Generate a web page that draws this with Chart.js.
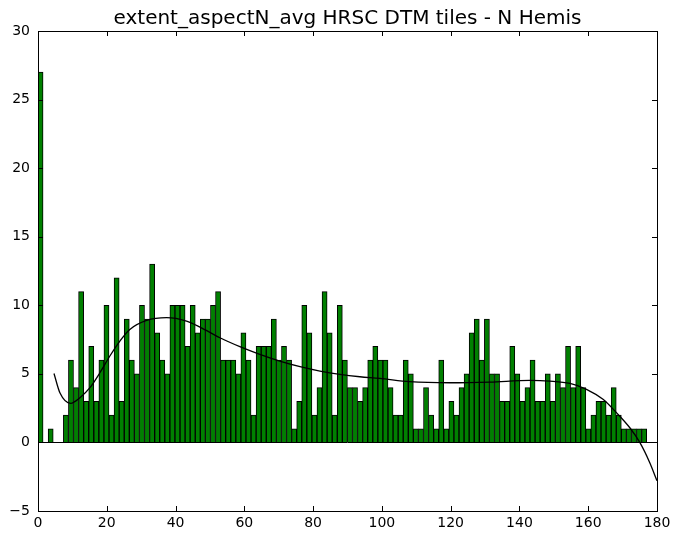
<!DOCTYPE html>
<html>
<head>
<meta charset="utf-8">
<script src="https://cdn.jsdelivr.net/npm/chart.js@4.4.1/dist/chart.umd.min.js"></script>
<style>
  html, body { margin: 0; padding: 0; background: #fff; }
  #hist { display: block; }
</style>
</head>
<body>
<canvas id="hist" width="681" height="545"></canvas>
<script>
// histogram counts, 120 bins from 0 to ~177
const binWidth = 1.475;
const binCounts = [
  27, 0, 1, 0, 0, 2, 6, 4, 11, 3, 7, 3, 6, 10, 2, 12, 3, 9, 6, 5,
  10, 9, 13, 8, 6, 5, 10, 10, 10, 7, 10, 8, 9, 9, 10, 11, 6, 6, 6, 5,
  8, 6, 2, 7, 7, 7, 9, 6, 7, 6, 1, 3, 10, 8, 2, 4, 11, 8, 2, 10,
  6, 4, 4, 3, 4, 6, 7, 6, 6, 4, 2, 2, 6, 5, 1, 1, 4, 2, 1, 6,
  1, 3, 2, 4, 5, 8, 9, 6, 9, 5, 5, 3, 3, 7, 5, 3, 4, 6, 3, 3,
  5, 3, 5, 4, 7, 4, 7, 4, 1, 2, 3, 3, 2, 4, 2, 1, 1, 1, 1, 1
];

// fitted curve
const fitX = [4.65, 6.4, 9.5, 12.2, 15.1, 18, 20.9, 23.8, 26.7, 31.6, 37.4, 43.2, 47.1, 52.9,
  58.7, 64.5, 70.3, 76.2, 82, 87.8, 93.6, 99.4, 108.1, 119.8, 131.4, 143, 148.8, 154.7,
  159.5, 164.3, 168.2, 172.1, 175, 177.9, 180];
const fitY = [5.03, 3.6, 2.85, 3.26, 3.99, 5.08, 6.3, 7.39, 8.24, 8.9, 9.1, 8.85, 8.41, 7.63,
  6.98, 6.42, 5.93, 5.52, 5.2, 4.96, 4.79, 4.67, 4.43, 4.35, 4.4, 4.52, 4.47, 4.3,
  3.87, 3.14, 2.17, 1.07, 0, -1.48, -2.8];

const xTicks = [0, 20, 40, 60, 80, 100, 120, 140, 160, 180];
const yTicks = [-5, 0, 5, 10, 15, 20, 25, 30];

const titleText = "extent_aspectN_avg HRSC DTM tiles - N Hemis";

Chart.defaults.font.family = "'DejaVu Sans', sans-serif";
Chart.defaults.color = "#000";

// frame on all four sides + inward ticks (old matplotlib look)
// title is centred over the plot area, not the whole canvas
const frameTicks = {
  id: "frameTicks",
  afterDatasetsDraw(chart) {
    const { ctx, chartArea: a, scales } = chart;
    const len = 5;
    ctx.save();
    ctx.strokeStyle = "#000";
    ctx.lineWidth = 1;
    ctx.beginPath();
    xTicks.forEach((v) => {
      const px = Math.round(scales.x.getPixelForValue(v)) + 0.5;
      ctx.moveTo(px, a.bottom);
      ctx.lineTo(px, a.bottom - len);
      ctx.moveTo(px, a.top);
      ctx.lineTo(px, a.top + len);
    });
    yTicks.forEach((v) => {
      const py = Math.round(scales.y.getPixelForValue(v)) + 0.5;
      ctx.moveTo(a.left, py);
      ctx.lineTo(a.left + len, py);
      ctx.moveTo(a.right, py);
      ctx.lineTo(a.right - len, py);
    });
    ctx.stroke();
    ctx.strokeRect(Math.round(a.left) + 0.5, Math.round(a.top) + 0.5,
      Math.round(a.right - a.left), Math.round(a.bottom - a.top));

    ctx.fillStyle = "#000";
    ctx.font = "20px 'DejaVu Sans', sans-serif";
    ctx.textAlign = "center";
    ctx.textBaseline = "alphabetic";
    ctx.fillText(titleText, (a.left + a.right) / 2, a.top - 7);
    ctx.restore();
  },
};

const barData = binCounts.map((c, i) => ({ x: i * binWidth + binWidth / 2, y: c }));
const lineData = fitX.map((x, i) => ({ x: x, y: fitY[i] }));

new Chart(document.getElementById("hist"), {
  type: "bar",
  data: {
    datasets: [
      {
        type: "line",
        data: lineData,
        borderColor: "#000",
        borderWidth: 1.3,
        pointRadius: 0,
        cubicInterpolationMode: "monotone",
        order: 0,
      },
      {
        data: barData,
        backgroundColor: "#008000",
        borderColor: "#000",
        borderWidth: 1,
        barPercentage: 1,
        categoryPercentage: 1,
        order: 1,
      },
    ],
  },
  options: {
    responsive: false,
    animation: false,
    devicePixelRatio: 1,
    layout: { padding: { left: 0, right: 24, top: 31, bottom: 0 } },
    plugins: {
      legend: { display: false },
      tooltip: { enabled: false },
      title: { display: false },
    },
    scales: {
      x: {
        type: "linear",
        min: 0,
        max: 180,
        offset: false,
        grid: { display: false, offset: false, drawTicks: false },
        border: { display: false },
        ticks: { stepSize: 20, padding: 4, font: { size: 14 }, maxRotation: 0 },
        afterFit(scale) { scale.height = 34; },
      },
      y: {
        min: -5,
        max: 30,
        grid: {
          drawTicks: false,
          color: (c) => (c.tick && c.tick.value === 0 ? "#000" : "rgba(0,0,0,0)"),
        },
        border: { display: false },
        ticks: {
          stepSize: 5,
          padding: 8,
          font: { size: 14 },
          callback: (v) => String(v).replace("-", "\u2212"),
        },
        afterFit(scale) { scale.width = 38; },
      },
    },
  },
  plugins: [frameTicks],
});
</script>
</body>
</html>
